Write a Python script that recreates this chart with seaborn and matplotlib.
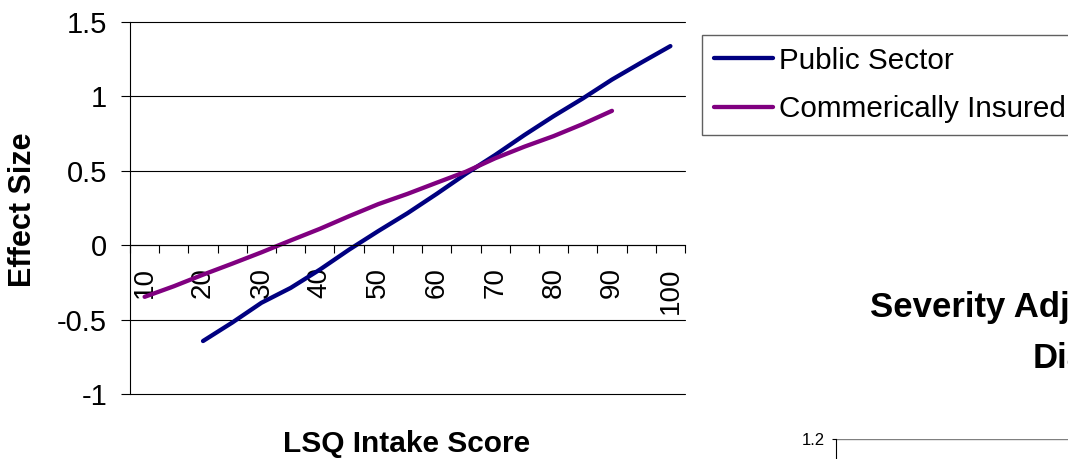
import numpy as np
import pandas as pd
import seaborn as sns
import matplotlib.pyplot as plt
from matplotlib.ticker import FixedLocator, FuncFormatter

# values
score_public = [20, 25, 30, 35, 40, 45, 50, 55, 60, 65, 70, 75, 80, 85, 90, 95, 100]
effect_public = [-0.644, -0.52, -0.387, -0.287, -0.164, -0.03, 0.095, 0.215, 0.345,
                 0.48, 0.606, 0.74, 0.867, 0.986, 1.113, 1.227, 1.338]
score_commercial = [10, 15, 20, 25, 30, 35, 40, 45, 50, 55, 60, 65, 70, 75, 80, 85, 90]
effect_commercial = [-0.347, -0.276, -0.198, -0.124, -0.048, 0.032, 0.11, 0.195, 0.276,
                     0.345, 0.42, 0.494, 0.584, 0.662, 0.733, 0.814, 0.903]
x_labels = [10, 20, 30, 40, 50, 60, 70, 80, 90, 100]
y_ticks = [-1, -0.5, 0, 0.5, 1, 1.5]

sns.set_style('white')
plt.rcParams['font.family'] = ['Liberation Sans', 'DejaVu Sans']
plt.rcParams['text.color'] = 'black'
plt.rcParams['axes.labelcolor'] = 'black'
plt.rcParams['xtick.color'] = 'black'
plt.rcParams['ytick.color'] = 'black'

W, H = 1068, 459
fig = plt.figure(figsize=(W / 100, H / 100), dpi=100)
ax = fig.add_axes([130 / W, 1 - 394 / H, 555 / W, 372 / H])

df_pub = pd.DataFrame({'score': score_public, 'effect': effect_public})
df_com = pd.DataFrame({'score': score_commercial, 'effect': effect_commercial})
sns.lineplot(data=df_pub, x='score', y='effect', ax=ax, color='#000080', lw=3.1,
             label='Public Sector', solid_capstyle='round')
sns.lineplot(data=df_com, x='score', y='effect', ax=ax, color='#800080', lw=3.1,
             label='Commerically Insured', solid_capstyle='round')

ax.set_xlim(7.5, 102.5)
ax.set_ylim(-1, 1.5)

# y axis
ax.set_yticks(y_ticks)
ax.yaxis.set_major_formatter(FuncFormatter(lambda v, p: f'{v:g}'))
ax.tick_params(axis='y', direction='out', length=6.5, width=0.8, color='black',
               labelsize=21, pad=10, left=True)
ax.grid(axis='y', color='black', lw=0.8)
ax.grid(axis='x', visible=False)
for gl in ax.get_ygridlines():
    gl.set_clip_on(False)

# x axis sits on zero, ticks between categories, labels every 10
ax.spines['bottom'].set_position(('data', 0))
for s in ['top', 'right']:
    ax.spines[s].set_visible(False)
ax.spines['left'].set_color('black')
ax.spines['left'].set_linewidth(0.8)
ax.spines['bottom'].set_color('black')
ax.spines['bottom'].set_linewidth(0.8)
ax.xaxis.set_major_locator(FixedLocator(np.arange(7.5, 103, 5)))
ax.xaxis.set_major_formatter(FuncFormatter(lambda v, p: ''))
ax.xaxis.set_minor_locator(FixedLocator(x_labels))
ax.xaxis.set_minor_formatter(FuncFormatter(lambda v, p: f'{v:g}'))
ax.tick_params(axis='x', which='major', direction='out', length=6, width=0.8,
               color='black', bottom=True)
ax.tick_params(axis='x', which='minor', length=0, labelsize=20, pad=16,
               labelrotation=90, bottom=True)

ax.set_xlabel('LSQ Intake Score', fontsize=21.5, fontweight='bold')
ax.set_ylabel('Effect Size', fontsize=22, fontweight='bold')
ax.xaxis.set_label_coords(0.499, -0.098)
ax.yaxis.set_label_coords(-0.166, 0.495)

handles, labels = ax.get_legend_handles_labels()
leg = ax.legend(handles, labels, loc='upper left', bbox_to_anchor=(702 / W, 1 - 35 / H),
                bbox_transform=fig.transFigure, borderaxespad=0, fontsize=21.3,
                handlelength=2.0, handletextpad=0.2, labelspacing=0.69,
                borderpad=0.4, frameon=True, fancybox=False, framealpha=1)
leg.get_frame().set_edgecolor('#606060')
leg.get_frame().set_linewidth(1)

# edge of a second chart, cut off by the image border
fig.text(870 / W, 1 - 308 / H, 'Severity Adj', fontsize=25, fontweight='bold', va='center')
fig.text(1033 / W, 1 - 358 / H, 'Dia', fontsize=25, fontweight='bold', va='center')
ax2 = fig.add_axes([836 / W, -0.3, 0.3, 0.3 + 20 / H])
ax2.set_ylim(0, 1.2)
ax2.set_yticks([1.2])
ax2.set_xticks([])
ax2.grid(axis='y', color='#808080', lw=1)
ax2.tick_params(axis='y', direction='out', length=3, width=0.8, labelsize=12, pad=5, left=True)
for s in ['top', 'right', 'bottom']:
    ax2.spines[s].set_visible(False)
ax2.spines['left'].set_color('black')
ax2.spines['left'].set_linewidth(0.8)

plt.savefig('out.png', dpi=100)
